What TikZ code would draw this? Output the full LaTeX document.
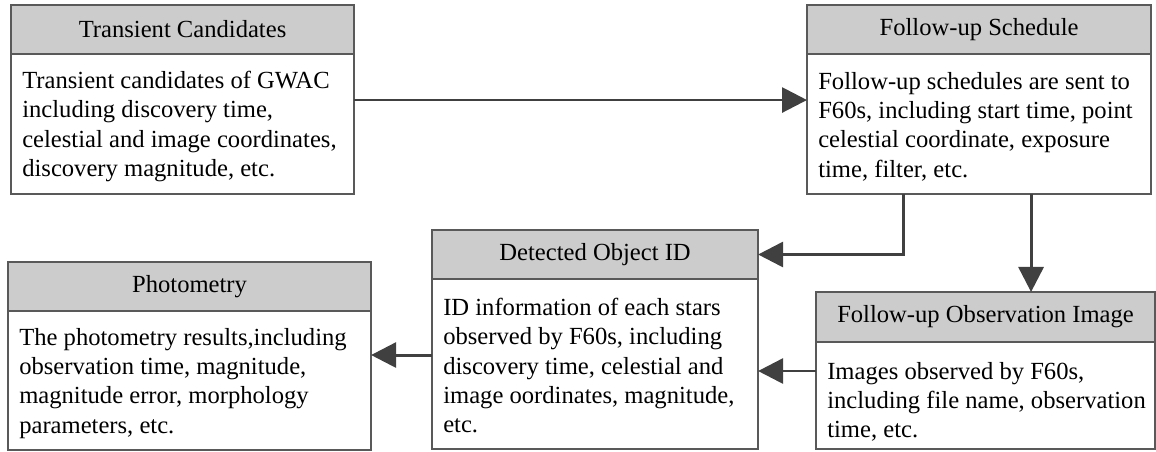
\documentclass[tikz,border=0pt]{standalone}
\usepackage{fontspec}
\setmainfont{Liberation Serif}
\usetikzlibrary{arrows.meta}
\definecolor{boxgray}{HTML}{595959}
\definecolor{headgray}{HTML}{CCCCCC}
\definecolor{arrowgray}{HTML}{404040}
\tikzset{
  txtfont/.style={font=\fontsize{17.5}{20.8}\selectfont},
  headbox/.style={draw=boxgray, line width=1.4pt, fill=headgray, anchor=north west, inner sep=0pt, outer sep=0pt, minimum height=1.225cm, txtfont},
  bodybox/.style={draw=boxgray, line width=1.4pt, anchor=north west, inner sep=0pt, outer sep=0pt},
  bodytext/.style={anchor=north west, inner sep=0pt, align=left, txtfont},
  flow/.style={draw=arrowgray, line width=2.1pt, -{Triangle[length=0.625cm,width=0.625cm]}}
}
\begin{document}
\begin{tikzpicture}[x=0.025cm,y=-0.025cm]
      \useasboundingbox (0,0) rectangle (1156,452);
      % transient candidates
      \node[headbox, minimum width=8.575cm] (tchead) at (11,5) {Transient Candidates};
      \node[bodybox, minimum width=8.575cm, minimum height=3.5cm] (tcbody) at (tchead.south west) {};
      \node[bodytext] (tctext) at ([xshift=0.275cm,yshift=-0.425cm]tcbody.north west) {Transient candidates of GWAC\\including discovery time,\\celestial and image coordinates,\\discovery magnitude, etc.};
      % follow-up schedule
      \node[headbox, minimum width=8.6cm] (fshead) at (807,5) {Follow-up Schedule};
      \node[bodybox, minimum width=8.6cm, minimum height=3.5cm] (fsbody) at (fshead.south west) {};
      \node[bodytext] (fstext) at ([xshift=0.275cm,yshift=-0.45cm]fsbody.north west) {Follow-up schedules are sent to\\F60s, including start time, point\\celestial coordinate, exposure\\time, filter, etc.};
      % detected object id
      \node[headbox, minimum width=8.15cm] (dohead) at (432,230) {Detected Object ID};
      \node[bodybox, minimum width=8.15cm, minimum height=4.25cm] (dobody) at (dohead.south west) {};
      \node[bodytext] (dotext) at ([xshift=0.275cm,yshift=-0.475cm]dobody.north west) {ID information of each stars\\observed by F60s, including\\discovery time, celestial and\\image oordinates, magnitude,\\etc.};
      % photometry
      \node[headbox, minimum width=9.075cm] (phhead) at (8,262) {Photometry};
      \node[bodybox, minimum width=9.075cm, minimum height=3.475cm] (phbody) at (phhead.south west) {};
      \node[bodytext] (phtext) at ([xshift=0.275cm,yshift=-0.425cm]phbody.north west) {The photometry results,including\\observation time, magnitude,\\magnitude error, morphology\\parameters, etc.};
      % follow-up observation image
      \node[headbox, minimum width=8.475cm, minimum height=1.25cm] (oihead) at (816,292) {Follow-up Observation Image};
      \node[bodybox, minimum width=8.475cm, minimum height=2.675cm] (oibody) at (oihead.south west) {};
      \node[bodytext] (oitext) at ([xshift=0.275cm,yshift=-0.5cm]oibody.north west) {Images observed by F60s,\\including file name, observation\\time, etc.};
      % connectors
      \draw[flow] ([yshift=0.6cm]tcbody.east) coordinate (tcout) -- (tcout -| fsbody.west);
      \draw[flow] ([xshift=-1.9cm]fsbody.south) |- (dohead.east);
      \draw[flow] ([xshift=1.3cm]fsbody.south) coordinate (fsout) -- (fsout |- oihead.north);
      \draw[flow] ([yshift=0.6125cm]oibody.west) coordinate (oiout) -- (oiout -| dobody.east);
      \draw[flow] ([yshift=0.225cm]dobody.west) coordinate (doout) -- (doout -| phbody.east);
     \end{tikzpicture}
\end{document}
